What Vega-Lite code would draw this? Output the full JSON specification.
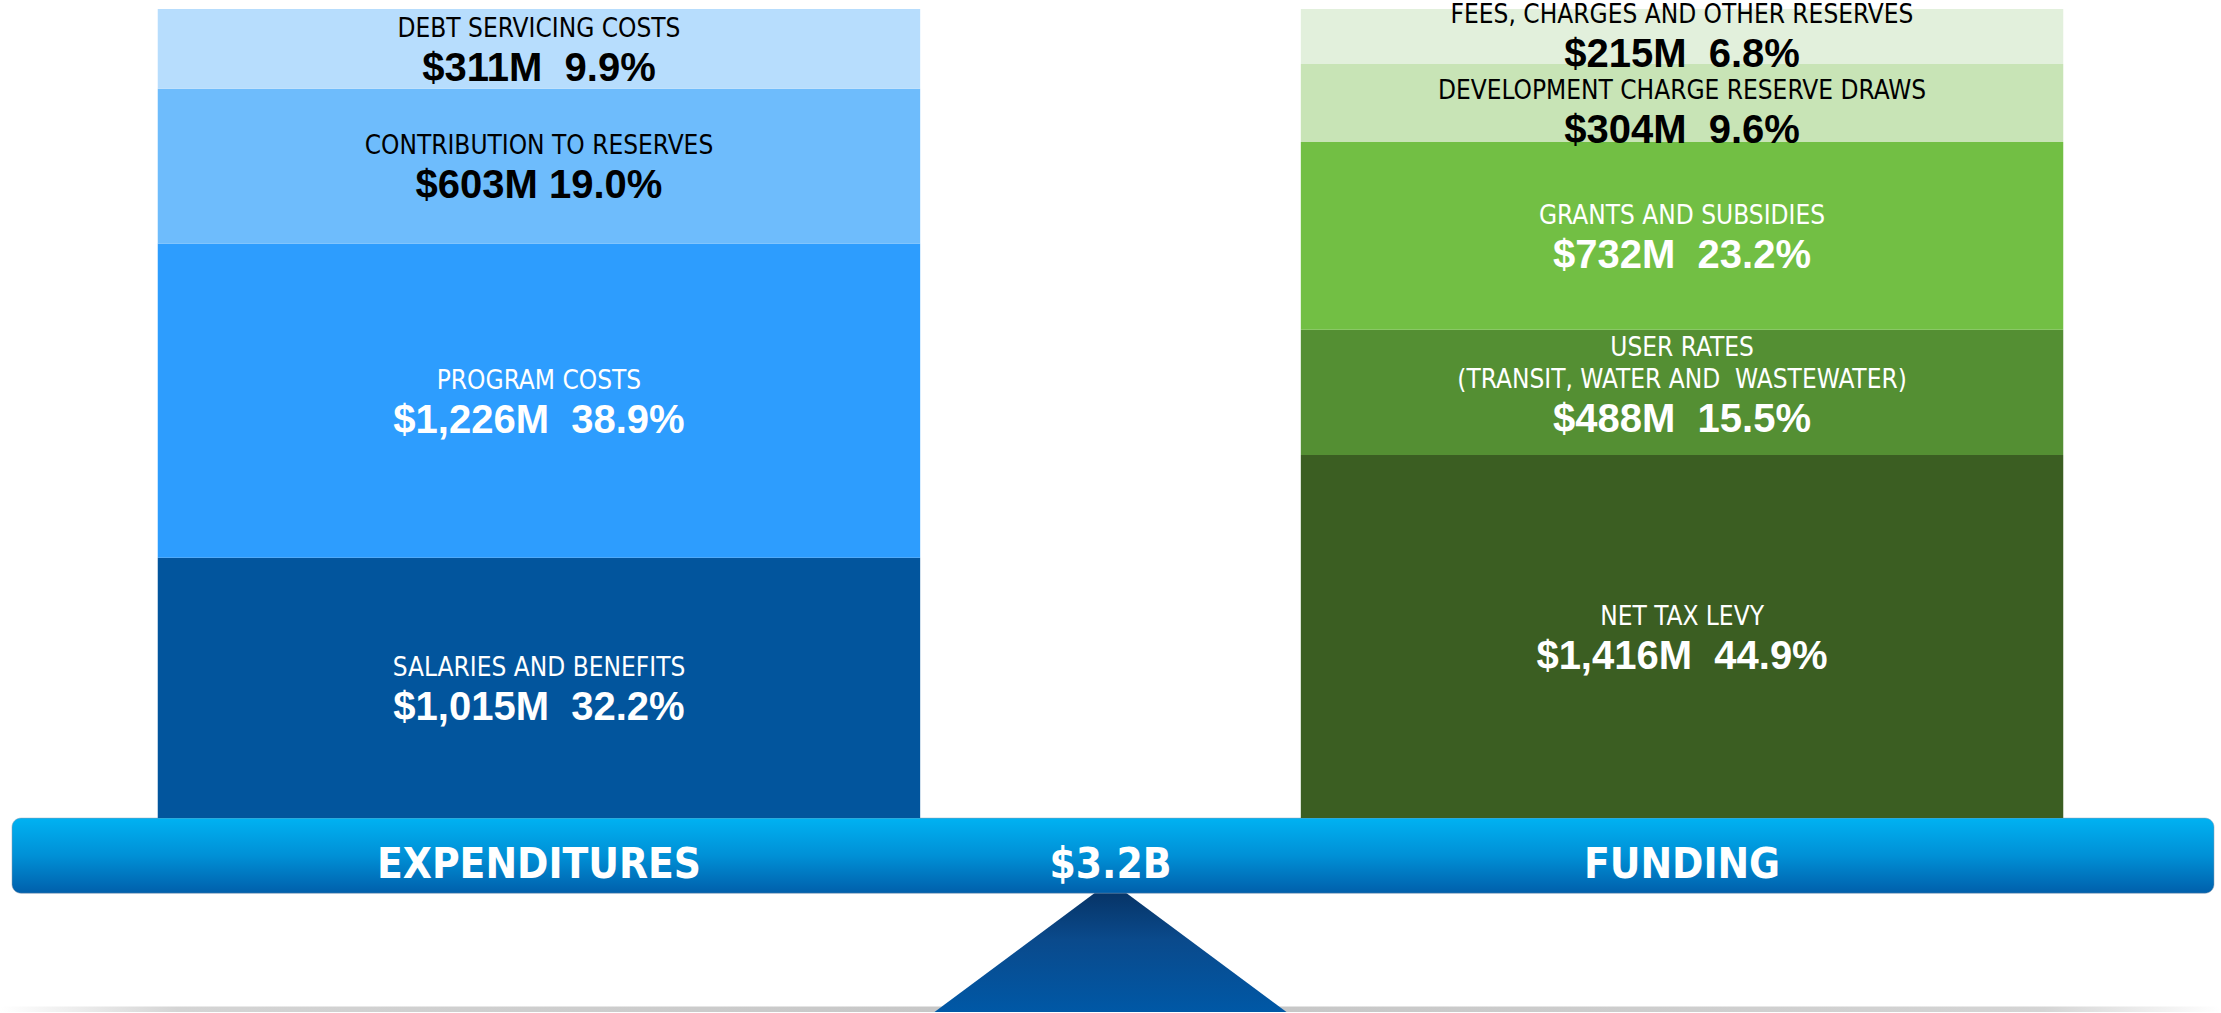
{
  "$schema": "https://vega.github.io/schema/vega-lite/v6.json",
  "width": 2221,
  "height": 1013,
  "autosize": {"type": "fit", "contains": "padding"},
  "padding": 0,
  "background": "white",
  "config": {"view": {"stroke": null}},
  "datasets": {
    "segments": [
      {"side": "EXPENDITURES", "k": 1, "item": "SALARIES AND BENEFITS", "amount": 1015, "share": 32.2, "valueText": "$1,015M\u00a0 32.2%"},
      {"side": "EXPENDITURES", "k": 2, "item": "PROGRAM COSTS", "amount": 1226, "share": 38.9, "valueText": "$1,226M\u00a0 38.9%"},
      {"side": "EXPENDITURES", "k": 3, "item": "CONTRIBUTION TO RESERVES", "amount": 603, "share": 19.0, "valueText": "$603M 19.0%"},
      {"side": "EXPENDITURES", "k": 4, "item": "DEBT SERVICING COSTS", "amount": 311, "share": 9.9, "valueText": "$311M\u00a0 9.9%"},
      {"side": "FUNDING", "k": 1, "item": "NET TAX LEVY", "amount": 1416, "share": 44.9, "valueText": "$1,416M\u00a0 44.9%"},
      {"side": "FUNDING", "k": 2, "item": "USER RATES\n(TRANSIT, WATER AND\u00a0 WASTEWATER)", "amount": 488, "share": 15.5, "valueText": "$488M\u00a0 15.5%"},
      {"side": "FUNDING", "k": 3, "item": "GRANTS AND SUBSIDIES", "amount": 732, "share": 23.2, "valueText": "$732M\u00a0 23.2%"},
      {"side": "FUNDING", "k": 4, "item": "DEVELOPMENT CHARGE RESERVE DRAWS", "amount": 304, "share": 9.6, "valueText": "$304M\u00a0 9.6%"},
      {"side": "FUNDING", "k": 5, "item": "FEES, CHARGES AND OTHER RESERVES", "amount": 215, "share": 6.8, "valueText": "$215M\u00a0 6.8%"}
    ],
    "beamLabels": [
      {"side": "EXPENDITURES"},
      {"side": "FUNDING"}
    ],
    "total": [
      {"totalText": "$3.2B", "total": 3155}
    ]
  },
  "layer": [
    {
      "data": {"name": "total"},
      "mark": {
        "type": "bar",
        "fill": {
          "gradient": "linear", "x1": 0, "y1": 0, "x2": 1, "y2": 0,
          "stops": [
            {"offset": 0, "color": "#ffffff"},
            {"offset": 0.08, "color": "#d4d4d4"},
            {"offset": 0.5, "color": "#c4c4c4"},
            {"offset": 0.92, "color": "#d4d4d4"},
            {"offset": 1, "color": "#ffffff"}
          ]
        }
      },
      "encoding": {
        "x": {"value": 0},
        "x2": {"value": "width"},
        "y": {"datum": -756, "type": "quantitative", "scale": {"domain": [-756, 3190], "nice": false, "zero": false}, "axis": null},
        "y2": {"datum": -735}
      }
    },
    {
      "data": {"name": "total"},
      "mark": {
        "type": "point",
        "shape": "M0,-0.372L1,0.372L-1,0.372Z",
        "size": 123904,
        "filled": true,
        "opacity": 1,
        "strokeWidth": 0,
        "fill": {
          "gradient": "linear", "x1": 0, "y1": 0, "x2": 0, "y2": 1,
          "stops": [
            {"offset": 0, "color": "#062f5e"},
            {"offset": 0.45, "color": "#0a4a8c"},
            {"offset": 1, "color": "#0058a6"}
          ]
        }
      },
      "encoding": {
        "y": {"datum": -501, "type": "quantitative"}
      }
    },
    {
      "data": {"name": "total"},
      "mark": {
        "type": "bar",
        "cornerRadius": 9,
        "stroke": "#8a9bb0",
        "strokeWidth": 1,
        "strokeOpacity": 0.5,
        "fill": {
          "gradient": "linear", "x1": 0, "y1": 0, "x2": 0, "y2": 1,
          "stops": [
            {"offset": 0, "color": "#00b2f2"},
            {"offset": 0.5, "color": "#0090d6"},
            {"offset": 1, "color": "#005fab"}
          ]
        }
      },
      "encoding": {
        "x": {"value": 12},
        "x2": {"value": {"expr": "width - 7"}},
        "y": {"datum": 0, "type": "quantitative"},
        "y2": {"datum": -293}
      }
    },
    {
      "data": {"name": "segments"},
      "mark": {"type": "bar"},
      "encoding": {
        "x": {"field": "side", "type": "nominal", "axis": null, "scale": {"paddingInner": 0.333, "paddingOuter": 0.138}},
        "y": {"field": "amount", "type": "quantitative", "stack": "zero"},
        "color": {
          "field": "item", "type": "nominal", "legend": null,
          "scale": {
            "domain": ["SALARIES AND BENEFITS", "PROGRAM COSTS", "CONTRIBUTION TO RESERVES", "DEBT SERVICING COSTS", "NET TAX LEVY", "USER RATES\n(TRANSIT, WATER AND\u00a0 WASTEWATER)", "GRANTS AND SUBSIDIES", "DEVELOPMENT CHARGE RESERVE DRAWS", "FEES, CHARGES AND OTHER RESERVES"],
            "range": ["#02559d", "#2d9dfe", "#6ebcfc", "#b7ddfd", "#3b5e22", "#548f33", "#72bf44", "#c8e4b6", "#e2f0dc"]
          }
        },
        "order": {"field": "k", "type": "quantitative"}
      }
    },
    {
      "data": {"name": "segments"},
      "mark": {"type": "text", "font": "Liberation Sans Narrow, DejaVu Sans Condensed, sans-serif", "fontSize": 26, "baseline": "alphabetic", "dy": {"expr": "indexof(datum.item, '\\n') >= 0 ? -36 : (datum.item === 'DEVELOPMENT CHARGE RESERVE DRAWS' ? -4 : (datum.item === 'FEES, CHARGES AND OTHER RESERVES' ? -14 : -12))"}, "lineBreak": "\n", "lineHeight": 32},
      "encoding": {
        "x": {"field": "side", "type": "nominal"},
        "y": {"field": "amount", "type": "quantitative", "stack": "zero", "bandPosition": 0.5},
        "detail": {"field": "item", "type": "nominal"},
        "order": {"field": "k", "type": "quantitative"},
        "text": {"field": "item", "type": "nominal"},
        "color": {
          "condition": {"test": "datum.item === 'DEBT SERVICING COSTS' || datum.item === 'CONTRIBUTION TO RESERVES' || datum.item === 'DEVELOPMENT CHARGE RESERVE DRAWS' || datum.item === 'FEES, CHARGES AND OTHER RESERVES'", "value": "#000000"},
          "value": "#ffffff"
        }
      }
    },
    {
      "data": {"name": "segments"},
      "mark": {"type": "text", "font": "Liberation Sans, Arial, sans-serif", "fontWeight": "bold", "fontSize": 40, "baseline": "alphabetic", "dy": {"expr": "indexof(datum.item, '\\n') >= 0 ? 40 : (datum.item === 'DEVELOPMENT CHARGE RESERVE DRAWS' ? 40 : (datum.item === 'FEES, CHARGES AND OTHER RESERVES' ? 30 : 32))"}},
      "encoding": {
        "x": {"field": "side", "type": "nominal"},
        "y": {"field": "amount", "type": "quantitative", "stack": "zero", "bandPosition": 0.5},
        "detail": {"field": "item", "type": "nominal"},
        "order": {"field": "k", "type": "quantitative"},
        "text": {"field": "valueText", "type": "nominal"},
        "color": {
          "condition": {"test": "datum.item === 'DEBT SERVICING COSTS' || datum.item === 'CONTRIBUTION TO RESERVES' || datum.item === 'DEVELOPMENT CHARGE RESERVE DRAWS' || datum.item === 'FEES, CHARGES AND OTHER RESERVES'", "value": "#000000"},
          "value": "#ffffff"
        }
      }
    },
    {
      "data": {"name": "beamLabels"},
      "mark": {"type": "text", "font": "Liberation Sans Narrow, DejaVu Sans Condensed, sans-serif", "fontWeight": "bold", "fontSize": 42, "baseline": "alphabetic", "dy": 60, "color": "#ffffff"},
      "encoding": {
        "x": {"field": "side", "type": "nominal"},
        "y": {"datum": 0, "type": "quantitative"},
        "text": {"field": "side", "type": "nominal"}
      }
    },
    {
      "data": {"name": "total"},
      "mark": {"type": "text", "font": "Liberation Sans Narrow, DejaVu Sans Condensed, sans-serif", "fontWeight": "bold", "fontSize": 42, "baseline": "alphabetic", "dy": 60, "color": "#ffffff"},
      "encoding": {
        "y": {"datum": 0, "type": "quantitative"},
        "text": {"field": "totalText", "type": "nominal"}
      }
    }
  ]
}
